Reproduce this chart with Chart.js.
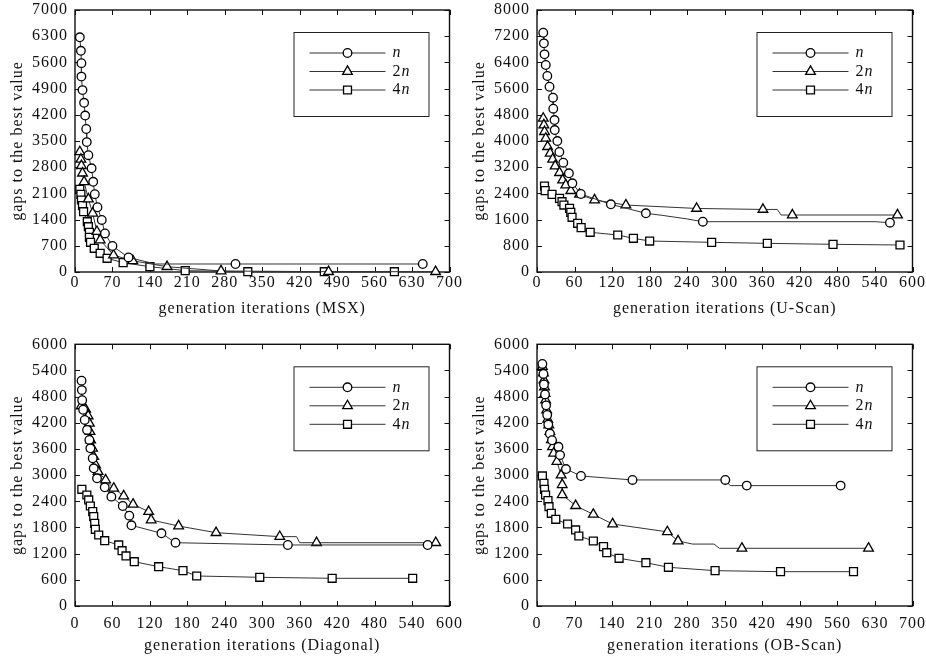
<!DOCTYPE html>
<html lang="en">
<head>
<meta charset="UTF-8">
<title>Gaps to the best value</title>
<script src="https://cdn.jsdelivr.net/npm/chart.js@4.4.3/dist/chart.umd.min.js"></script>
<style>
  body { margin: 0; background: #fff; }
  #wrap { position: relative; width: 926px; height: 656px; }
  canvas { position: absolute; }
</style>
</head>
<body>
<div id="wrap">
  <canvas id="msx" width="463" height="328" style="left:0;top:0"></canvas>
  <canvas id="uscan" width="464" height="328" style="left:462px;top:0"></canvas>
  <canvas id="diag" width="463" height="328" style="left:0;top:328px"></canvas>
  <canvas id="obscan" width="464" height="328" style="left:462px;top:328px"></canvas>
</div>
<script>
// [iteration, gap]; a third value 0 marks a point on the curve with no marker
const msxN = [[9,6270],[11,5910],[12,5580],[12,5220],[14,4860],[17,4520],[19,4180],[21,3820],[22,3470],[25,3120],[31,2770],[34,2410],[37,2080],[42,1730],[50,1390],[56,1030],[70,695],[100,390],[150,214,0],[300,214],[650,214]];
const msx2N = [[9,3210],[11,3010],[12,2840],[14,2640],[17,2410],[25,1950],[33,1570],[41,1080],[47,855],[72,450],[108,300],[172,142],[273,27],[474,8],[674,8]];
const msx4N = [[9,2210],[11,2076],[12,1924],[14,1772],[16,1611],[23,1344],[25,1210],[27,1060],[27,927],[29,794],[36,633],[47,500],[60,366],[90,249],[140,142],[206,36],[323,8],[466,8],[597,8]];

const uscanN = [[10,7306],[11,6982],[12,6646],[14,6320],[16.5,5984],[20,5657],[25.6,5322],[26,4986],[28,4640],[28.3,4335],[32.5,3999],[35.7,3664],[42,3337],[51,3013],[56.5,2708],[70,2381],[118,2067],[174,1792],[200,1730,0],[240,1620,0],[265,1536],[540,1536,0],[564,1505]];
const uscan2N = [[10,4692],[11,4488],[12,4284],[14,4081],[17,3826],[21,3623],[25,3440],[29,3236],[36,3032],[41,2809],[46,2656],[54,2483],[68,2371],[92,2198],[142,2045],[255,1940],[361,1910],[384,1910,0],[390,1740,0],[408,1740],[576,1740]];
const uscan4N = [[12,2626],[13,2483],[24,2371],[36,2249],[40,2147],[43,2045],[52,1944],[54,1822],[56,1670],[65,1487],[70.5,1354],[85,1212],[129,1130],[154,1029],[180,946],[279,906],[368,875],[473,845],[580,824]];

const diagN = [[10.5,5166],[11,4950],[11.5,4720],[13,4500],[15.6,4265],[19.3,4036],[23,3806],[24.6,3616],[28.4,3387],[30,3157],[35.3,2928],[47.6,2722],[58.3,2507],[76.5,2293],[87,2071],[90.4,1850],[138.5,1667],[161,1451],[341,1399],[565,1399]];
const diag2N = [[10,4586],[17,4510],[21,4357],[23,4189],[24,3997],[25,3806],[28,3616],[30,3424],[33,3233],[37,3080],[49,2889],[62,2699],[78,2522],[93,2332],[118,2163],[122,1972],[166,1834],[226,1681],[328,1590],[355,1590,0],[360,1451,0],[387,1451],[578,1451]];
const diag4N = [[11,2676],[19,2545],[22,2431],[24.6,2293],[28.4,2163],[30,2048],[31.6,1896],[32.6,1759],[38,1628],[47.6,1497],[70,1399],[75.4,1268],[81.8,1147],[95,1016],[134,901],[173,810],[195,688],[296,658],[412,635],[541,635]];

const obN = [[10,5550],[12,5320],[13,5080],[15,4850],[17,4600],[19,4380],[21,4160],[24,3950],[28,3800],[40,3650],[43,3460],[54,3140],[82,2980],[178,2890],[351,2890],[360,2760,0],[391,2760],[566,2760]];
const ob2N = [[10,5490],[12,5340],[13,5180],[14,5020],[15,4870],[16,4720],[18,4490],[20,4280],[22,4150],[24,4000],[27,3810],[29,3650],[31,3500],[37,3310],[45,3000],[47,2780],[47,2550],[72,2300],[105,2100],[141,1880],[243,1700],[263,1490],[290,1420,0],[330,1420,0],[340,1323,0],[382,1323],[618,1323]];
const ob4N = [[10,2981],[13,2813],[14,2676],[16,2545],[20.5,2415],[22.4,2277],[26.7,2125],[35,1988],[57,1880],[72,1743],[78,1605],[105,1490],[124,1360],[130,1222],[153,1094],[203,993],[245,887],[332,810],[454,787],[590,787]];

const seriesLabels = ['n', '2n', '4n'];

const ticks70 = [0,70,140,210,280,350,420,490,560,630,700];
const ticks60 = [0,60,120,180,240,300,360,420,480,540,600];
const msxYTicks = [0,700,1400,2100,2800,3500,4200,4900,5600,6300,7000];
const uscanYTicks = [0,800,1600,2400,3200,4000,4800,5600,6400,7200,8000];
const sixKTicks = [0,600,1200,1800,2400,3000,3600,4200,4800,5400,6000];

const serif = 'Liberation Serif';
const markers = [
  { pointStyle: 'circle', radius: 4.3 },
  { pointStyle: 'triangle', radius: 5.6 },
  { pointStyle: 'rect', radius: 5.6 }
];

// Times is narrower than the TeX font of the original, so widen a bit
const spacingPlugin = {
  id: 'spacing',
  beforeLayout(chart) { chart.ctx.letterSpacing = '1px'; },
  beforeDraw(chart) { chart.ctx.letterSpacing = '1px'; }
};

// inner ticks on all four sides plus the box
const framePlugin = {
  id: 'frame',
  beforeDatasetsDraw(chart) {
    const { ctx, chartArea: a, scales: { x, y } } = chart;
    ctx.save();
    ctx.strokeStyle = '#111';
    ctx.lineWidth = 1;
    ctx.beginPath();
    x.ticks.forEach(t => {
      const px = Math.round(x.getPixelForValue(t.value)) + 0.5;
      ctx.moveTo(px, a.bottom); ctx.lineTo(px, a.bottom - 5);
      ctx.moveTo(px, a.top); ctx.lineTo(px, a.top + 5);
    });
    y.ticks.forEach(t => {
      const py = Math.round(y.getPixelForValue(t.value)) + 0.5;
      ctx.moveTo(a.left, py); ctx.lineTo(a.left + 5, py);
      ctx.moveTo(a.right, py); ctx.lineTo(a.right - 5, py);
    });
    ctx.stroke();
    ctx.lineWidth = 1.4;
    ctx.strokeRect(a.left, a.top, a.right - a.left, a.bottom - a.top);
    ctx.restore();
  },
  afterDraw(chart) {
    const { ctx, chartArea: a } = chart;
    const bx = a.right - 156, by = a.top + 22, bw = 135, bh = 84;
    ctx.save();
    ctx.fillStyle = '#fff';
    ctx.fillRect(bx, by, bw, bh);
    ctx.strokeStyle = '#222';
    ctx.lineWidth = 1;
    ctx.strokeRect(bx + 0.5, by + 0.5, bw, bh);
    chart.data.datasets.forEach((ds, i) => {
      const ly = by + 21 + i * 18.5;
      ctx.strokeStyle = '#333';
      ctx.lineWidth = 1;
      ctx.beginPath();
      ctx.moveTo(bx + 16, ly); ctx.lineTo(bx + 92, ly);
      ctx.stroke();
      ctx.fillStyle = '#fff';
      ctx.strokeStyle = '#000';
      ctx.lineWidth = 1.3;
      Chart.helpers.drawPoint(ctx, { pointStyle: markers[i].pointStyle, radius: markers[i].radius, borderWidth: 1.3, rotation: 0 }, bx + 54, ly);
      ctx.fillStyle = '#111';
      ctx.textBaseline = 'middle';
      let tx = bx + 99;
      const lab = seriesLabels[i];
      if (lab.length > 1) {
        ctx.font = '16px "' + serif + '"';
        ctx.fillText(lab[0], tx, ly);
        tx += ctx.measureText(lab[0]).width;
      }
      ctx.font = 'italic 16px "' + serif + '"';
      ctx.fillText('n', tx, ly);
    });
    ctx.restore();
  }
};

function toPoints(arr) {
  return arr.map(p => ({ x: p[0], y: p[1], m: p.length > 2 ? 0 : 1 }));
}

function makePanel(id, series, xTicks, yTicks, title, padTop, xHeight, xTickPad, xTitlePad) {
  const datasets = series.map((s, i) => ({
    label: seriesLabels[i],
    data: toPoints(s),
    borderColor: '#333',
    borderWidth: 1,
    pointStyle: markers[i].pointStyle,
    pointRadius: ctx => (ctx.raw && ctx.raw.m === 0 ? 0 : markers[i].radius),
    pointBackgroundColor: '#fff',
    pointBorderColor: '#000',
    pointBorderWidth: 1.3,
    tension: 0,
    clip: false
  }));
  return new Chart(document.getElementById(id), {
    type: 'line',
    data: { datasets: datasets },
    options: {
      responsive: false,
      animation: false,
      devicePixelRatio: 1,
      events: [],
      layout: { padding: { top: padTop, right: 13.5, left: 0, bottom: 0 } },
      plugins: { legend: { display: false }, tooltip: { enabled: false } },
      scales: {
        x: {
          type: 'linear',
          min: xTicks[0],
          max: xTicks[xTicks.length - 1],
          afterBuildTicks: s => { s.ticks = xTicks.map(v => ({ value: v })); },
          afterFit: s => { s.height = xHeight; s.paddingLeft = 0; s.paddingRight = 0; },
          grid: { display: false, drawTicks: false },
          border: { display: false },
          ticks: { font: { family: serif, size: 16 }, color: '#111', padding: xTickPad, maxRotation: 0, autoSkip: false, callback: v => String(v) },
          title: { display: true, text: title, font: { family: serif, size: 16 }, color: '#111', padding: { top: 0, bottom: xTitlePad } }
        },
        y: {
          min: yTicks[0],
          max: yTicks[yTicks.length - 1],
          afterBuildTicks: s => { s.ticks = yTicks.map(v => ({ value: v })); },
          afterFit: s => { s.width = 75; s.paddingTop = 0; s.paddingBottom = 0; },
          grid: { display: false, drawTicks: false },
          border: { display: false },
          ticks: { font: { family: serif, size: 16 }, color: '#111', padding: 7, autoSkip: false, callback: v => String(v) },
          title: { display: true, text: 'gaps to the best value', font: { family: serif, size: 16 }, color: '#111', padding: { top: 8, bottom: 0 } }
        }
      }
    },
    plugins: [spacingPlugin, framePlugin]
  });
}

makePanel('msx', [msxN, msx2N, msx4N], ticks70, msxYTicks, 'generation iterations (MSX)', 10, 56, 1, 10);
makePanel('uscan', [uscanN, uscan2N, uscan4N], ticks60, uscanYTicks, 'generation iterations (U-Scan)', 10, 56, 1, 10);
makePanel('diag', [diagN, diag2N, diag4N], ticks60, sixKTicks, 'generation iterations (Diagonal)', 16.3, 50, 8, 1);
makePanel('obscan', [obN, ob2N, ob4N], ticks70, sixKTicks, 'generation iterations (OB-Scan)', 16.3, 50, 8, 1);
</script>
</body>
</html>
